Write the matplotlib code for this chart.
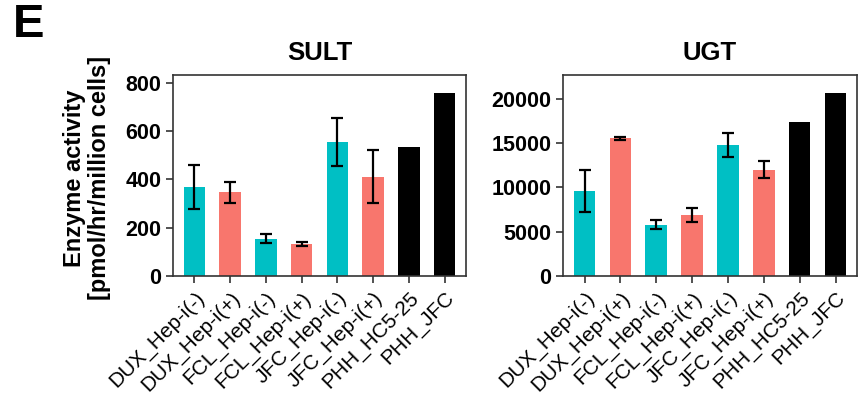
import matplotlib
matplotlib.use("Agg")
import matplotlib.pyplot as plt
import numpy as np

plt.rcParams['font.family'] = ['Liberation Sans', 'DejaVu Sans']

categories = ["DUX_Hep-i(-)", "DUX_Hep-i(+)", "FCL_Hep-i(-)", "FCL_Hep-i(+)",
              "JFC_Hep-i(-)", "JFC_Hep-i(+)", "PHH_HC5-25", "PHH_JFC"]
sult_mean = [368, 347, 155, 133, 555, 412, 533, 757]
sult_sd = [92, 44, 20, 7, 99, 108, 0, 0]
ugt_mean = [9600, 15500, 5800, 6900, 14800, 12000, 17360, 20590]
ugt_sd = [2350, 200, 500, 770, 1350, 1000, 0, 0]
bar_colors = ["#00BFC4", "#F8766D", "#00BFC4", "#F8766D",
              "#00BFC4", "#F8766D", "#000000", "#000000"]
sult_ticks = [0, 200, 400, 600, 800]
ugt_ticks = [0, 5000, 10000, 15000, 20000]

fig = plt.figure(figsize=(8.65, 4.05), dpi=100)
ax1 = fig.add_axes([0.2, 0.3185, 0.3387, 0.4963])
ax2 = fig.add_axes([0.6509, 0.3185, 0.3399, 0.4963])

def draw(ax, mean, sd, ticks, title):
    x = np.arange(len(categories))
    ax.bar(x, mean, width=0.6, color=bar_colors, zorder=2)
    m = np.array(mean, float); s = np.array(sd, float)
    idx = s > 0
    ax.errorbar(x[idx], m[idx], yerr=s[idx], fmt='none', ecolor='black',
                elinewidth=1.6, capsize=4.5, capthick=1.6, zorder=3)
    ax.set_xlim(-0.6, len(categories) - 0.4)
    ax.set_ylim(0, max(mean) * 1.1)
    ax.set_yticks(ticks)
    ax.set_yticklabels([str(t) for t in ticks], fontsize=15.5, fontweight='bold')
    ax.set_xticks(x)
    ax.set_xticklabels(categories, rotation=45, ha='right', rotation_mode='anchor',
                       fontsize=15)
    for sp in ax.spines.values():
        sp.set_color('#333333'); sp.set_linewidth(1.2)
    ax.tick_params(axis='both', colors='#333333', length=5, width=1.2, labelcolor='black')
    ax.tick_params(axis='x', pad=4)
    ax.set_title(title, fontsize=18.5, fontweight='bold', pad=11)

draw(ax1, sult_mean, sult_sd, sult_ticks, "SULT")
draw(ax2, ugt_mean, ugt_sd, ugt_ticks, "UGT")
fig.text(87 / 865, 1 - 178 / 405, "Enzyme activity\n[pmol/hr/million cells]",
         fontsize=17, fontweight='bold', rotation=90, ha='center', va='center',
         multialignment='center', linespacing=1.1)

fig.text(13 / 865, 1 - 37 / 405, "E", fontsize=34, fontweight='bold',
         va='baseline', ha='left')

fig.savefig("out.png", dpi=100)
